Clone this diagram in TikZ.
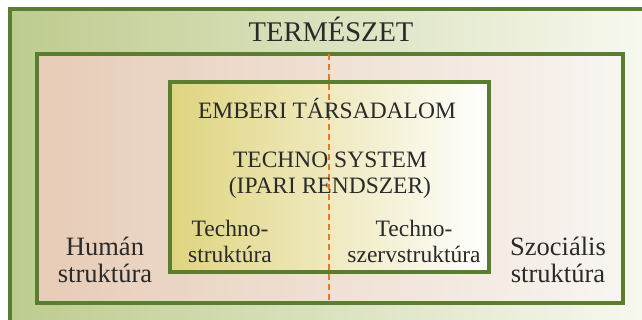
\documentclass[tikz,border=0pt]{standalone}
\usepackage{fontspec}
\setmainfont{Liberation Serif}
\usetikzlibrary{positioning}
\definecolor{keret}{HTML}{5B7D2F}
\definecolor{szoveg}{HTML}{2A2A2A}
\definecolor{termbal}{HTML}{BDCC8E}
\definecolor{termjobb}{HTML}{F7F8EE}
\definecolor{tarsbal}{HTML}{E7CCB7}
\definecolor{tarsjobb}{HTML}{F8F5F1}
\definecolor{iparbal}{HTML}{DFD47E}
\definecolor{iparkozep}{HTML}{F1EBC0}
\definecolor{oszto}{HTML}{E07A2E}
\newcommand{\nagybetu}{\fontsize{28.5}{30}\selectfont}
\newcommand{\oldalbetu}{\fontsize{26.5}{27}\selectfont}
\newcommand{\belsobetu}{\fontsize{23.5}{26}\selectfont}
\tikzset{
  frame/.style={draw=keret, line width=3.4pt, inner sep=0pt, outer sep=0pt, anchor=north west},
  felirat/.style={text=szoveg, inner sep=0pt, align=center, anchor=base},
  valaszto/.style={draw=oszto, line width=1.8pt, dash pattern=on 6pt off 4pt}
}
\begin{document}
\begin{tikzpicture}[x=1pt,y=-1pt]
   \useasboundingbox (0,0) rectangle (642,320);
   % termeszet
   \shade[left color=termbal, right color=termjobb] (10,9) rectangle (642,320);
   \draw[keret, line width=3.4pt] (10,320) -- (10,9) -- (642,9);
   \node[frame, left color=tarsbal, right color=tarsjobb,
         minimum width=586pt, minimum height=249pt] (tarsas) at (37,54) {};
   \node[frame, left color=iparbal, middle color=iparkozep, right color=white,
         minimum width=319pt, minimum height=190pt] (ipar) at (170,82) {};
   \coordinate (oszt) at (329,0);
   \draw[valaszto] (oszt |- tarsas.north) -- (oszt |- tarsas.south);
   % feliratok (base = utolso sor)
   \node[felirat, font=\nagybetu] (termeszet) at (331,42) {TERMÉSZET};
   \node[felirat, font=\belsobetu] (tarsadalom) at (327,119) {EMBERI TÁRSADALOM};
   \node[felirat, font=\belsobetu] (technosys) at (330,194) {TECHNO SYSTEM\\(IPARI RENDSZER)};
   \node[felirat, font=\oldalbetu] (human) at (105,282) {Humán\\struktúra};
   \node[felirat, font=\oldalbetu] (szocialis) at (558,282) {Szociális\\struktúra};
   \node[felirat, font=\belsobetu] (technostr) at (230,262) {Techno-\\struktúra};
   \node[felirat, font=\belsobetu] (szervstr) at (414,262) {Techno-\\szervstruktúra};
\end{tikzpicture}
\end{document}
